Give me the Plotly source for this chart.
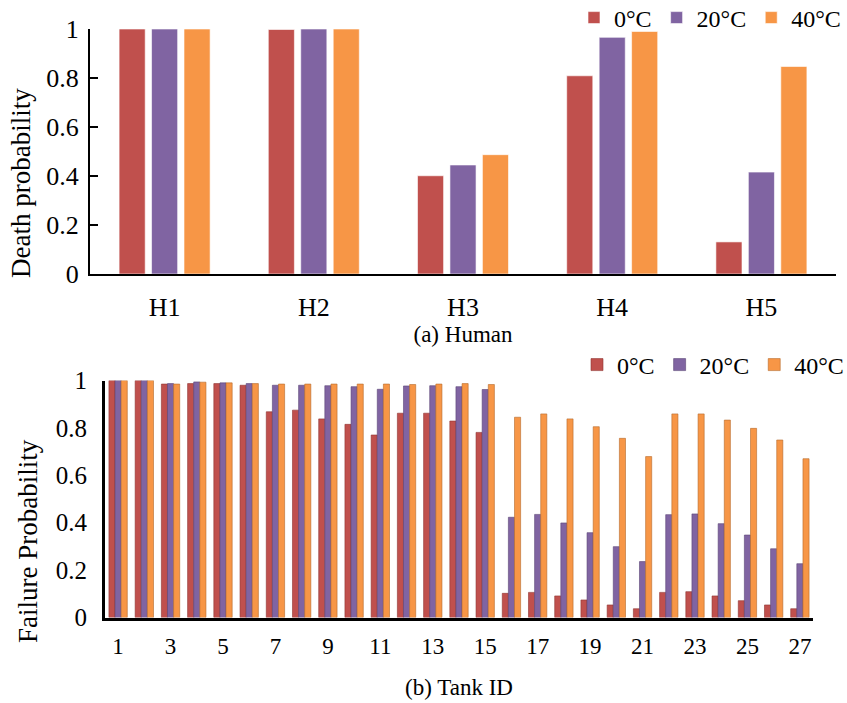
import plotly.graph_objects as go

# ---- data ----
series_names = ["0°C", "20°C", "40°C"]
colors = ["#C0504D", "#8064A2", "#F79646"]

human_ids = ["H1", "H2", "H3", "H4", "H5"]
human_0 = [1.0, 0.998, 0.401, 0.809, 0.131]
human_20 = [1.0, 1.0, 0.445, 0.966, 0.416]
human_40 = [1.0, 1.0, 0.487, 0.990, 0.847]

tank_ids = list(range(1, 28))
tank_0 = [1.0, 1.0, 0.985, 0.987, 0.987, 0.980, 0.868, 0.875, 0.838, 0.815,
          0.770, 0.862, 0.862, 0.829, 0.781, 0.102, 0.106, 0.091, 0.074, 0.053,
          0.037, 0.106, 0.109, 0.091, 0.071, 0.053, 0.037]
tank_20 = [1.0, 1.0, 0.987, 0.994, 0.990, 0.987, 0.980, 0.980, 0.978, 0.974,
           0.963, 0.977, 0.978, 0.974, 0.962, 0.423, 0.435, 0.399, 0.358, 0.299,
           0.236, 0.434, 0.437, 0.396, 0.348, 0.290, 0.227]
tank_40 = [1.0, 1.0, 0.985, 0.993, 0.990, 0.987, 0.985, 0.985, 0.985, 0.985,
           0.985, 0.983, 0.985, 0.987, 0.983, 0.845, 0.859, 0.838, 0.805, 0.756,
           0.679, 0.859, 0.859, 0.833, 0.798, 0.749, 0.670]
tank_ticks = list(range(1, 28, 2))

FONT = "Liberation Serif"
W, H = 847, 703

fig = go.Figure()

# Human panel: three bars per category with a small gap between them
human_offsets = [-0.305, -0.0875, 0.13]
for name, vals, col, off in zip(series_names, [human_0, human_20, human_40], colors, human_offsets):
    fig.add_trace(go.Bar(
        x=human_ids, y=vals, name=name, marker_color=col,
        marker_line=dict(color="rgba(255,255,255,0.6)", width=1),
        width=0.175, offset=off, xaxis="x", yaxis="y", legend="legend"))

# Tank panel: three touching bars per tank
tank_offsets = [-0.35, -0.117, 0.117]
edge_colors = ["#8E3431", "#5A4575", "#B5692C"]
for name, vals, col, ec, off in zip(series_names, [tank_0, tank_20, tank_40], colors, edge_colors, tank_offsets):
    fig.add_trace(go.Bar(
        x=tank_ids, y=vals, name=name, marker_color=col,
        marker_line=dict(color=ec, width=0.6),
        width=0.233, offset=off, xaxis="x2", yaxis="y2", legend="legend2"))


def px_x(p):
    return p / W


def px_y(p):
    return 1 - p / H


legend_font = dict(family=FONT, size=24, color="black")

fig.update_layout(
    width=W, height=H,
    margin=dict(l=0, r=0, t=0, b=0, autoexpand=False),
    paper_bgcolor="white", plot_bgcolor="white",
    barmode="overlay",
    font=dict(family=FONT, color="black"),
    xaxis=dict(domain=[px_x(90), px_x(836)], anchor="y", linewidth=2,
               showgrid=False, zeroline=False, showline=True, linecolor="black",
               ticks="", ticklabelstandoff=9, tickfont=dict(family=FONT, size=26, color="black"),
               title=dict(text="(a) Human", font=dict(family=FONT, size=23), standoff=0)),
    yaxis=dict(domain=[px_y(274), px_y(29)], anchor="x", range=[0, 1], linewidth=2,
               showgrid=False, zeroline=False, showline=True, linecolor="black",
               tickvals=[0, 0.2, 0.4, 0.6, 0.8, 1], ticktext=["0", "0.2", "0.4", "0.6", "0.8", "1"],
               ticks="inside", ticklen=8, tickwidth=2, tickcolor="black",
               ticklabelstandoff=4, tickfont=dict(family=FONT, size=26, color="black")),
    xaxis2=dict(domain=[px_x(105), px_x(813)], anchor="y2", linewidth=3, range=[0.5, 27.5],
                showgrid=False, zeroline=False, showline=True, linecolor="black",
                tickvals=tank_ticks, ticktext=[str(t) for t in tank_ticks], ticks="",
                ticklabelstandoff=6, tickfont=dict(family=FONT, size=23, color="black"),
                title=dict(text="(b) Tank ID", font=dict(family=FONT, size=23), standoff=21)),
    yaxis2=dict(domain=[px_y(617.5), px_y(380.5)], anchor="x2", range=[0, 1], linewidth=3,
                showgrid=False, zeroline=False, showline=True, linecolor="black",
                tickvals=[0, 0.2, 0.4, 0.6, 0.8, 1], ticktext=["0", "0.2", "0.4", "0.6", "0.8", "1"],
                ticks="", ticklabelstandoff=10, tickfont=dict(family=FONT, size=25, color="black")),
    legend=dict(orientation="h", x=px_x(846), xanchor="right", y=px_y(18), yanchor="middle",
                font=legend_font, itemwidth=30, tracegroupgap=0,
                bgcolor="rgba(0,0,0,0)"),
    legend2=dict(orientation="h", x=px_x(849), xanchor="right", y=px_y(365), yanchor="middle",
                 font=legend_font, itemwidth=30, tracegroupgap=0,
                 bgcolor="rgba(0,0,0,0)"),
    annotations=[
        dict(text="Death probability", textangle=-90, x=px_x(21), y=px_y(183),
             xanchor="center", yanchor="middle",
             xref="paper", yref="paper", showarrow=False, font=dict(family=FONT, size=27)),
        dict(text="Failure Probability", textangle=-90, x=px_x(28), y=px_y(541),
             xanchor="center", yanchor="middle",
             xref="paper", yref="paper", showarrow=False, font=dict(family=FONT, size=27)),
    ],
)

fig.write_html("out.html")
